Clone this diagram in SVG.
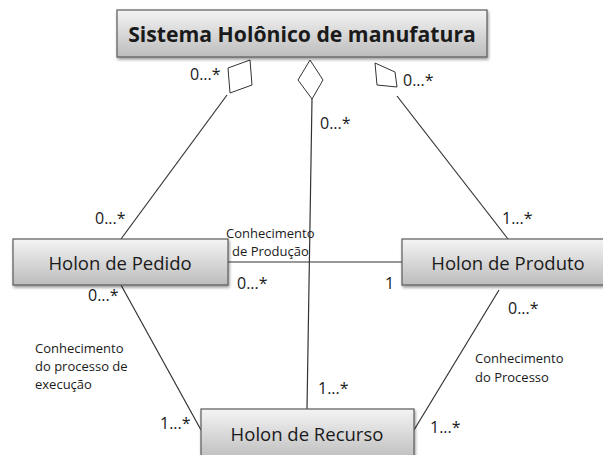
<svg xmlns="http://www.w3.org/2000/svg" width="603" height="455" viewBox="0 0 603 455">
<defs>
<linearGradient id="g" x1="0" y1="0" x2="0" y2="1">
<stop offset="0" stop-color="#f4f4f4"/>
<stop offset="1" stop-color="#bcbcbc"/>
</linearGradient>
<filter id="sh" x="-10%" y="-20%" width="120%" height="150%">
<feDropShadow dx="1" dy="2" stdDeviation="1.5" flood-color="#000" flood-opacity="0.4"/>
</filter>
</defs>
<style>
.box{fill:url(#g);stroke:#5a5a5a;stroke-width:1.2;filter:url(#sh)}
.t{font-family:"Open Sans","Liberation Sans",sans-serif;fill:#1a1a1a}
.big{font-size:18.5px}
.lab{font-size:16px}
.sm{font-size:13px}
.ln{stroke:#333;stroke-width:1.2;fill:none}
.dm{stroke:#333;stroke-width:1;fill:#fff}
</style>
<g id="connectors">
<line class="ln" x1="227" y1="95" x2="121" y2="239"/>
<line class="ln" x1="312" y1="99" x2="307" y2="409"/>
<line class="ln" x1="397" y1="96" x2="508" y2="239"/>
<line class="ln" x1="228" y1="262" x2="402" y2="262"/>
<line class="ln" x1="121" y1="285" x2="201" y2="430"/>
<line class="ln" x1="499" y1="290" x2="414" y2="430"/>
<polygon class="dm" points="228,68 250,60 252,85 230,93"/>
<polygon class="dm" points="310,60 323,80 312,99 298,80"/>
<polygon class="dm" points="375,63 395,72 397,87 377,85"/>
</g>
<g id="sistema">
<rect class="box" x="117" y="10" width="370" height="47"/>
<text class="t" x="302" y="42" text-anchor="middle" font-size="21.2" font-weight="bold">Sistema Holônico de manufatura</text>
</g>
<g id="pedido">
<rect class="box" x="13" y="239" width="215" height="46"/>
<text class="t big" x="120" y="270" text-anchor="middle">Holon de Pedido</text>
</g>
<g id="produto">
<rect class="box" x="402" y="239" width="210" height="46"/>
<text class="t big" x="508" y="270" text-anchor="middle">Holon de Produto</text>
</g>
<g id="recurso">
<rect class="box" x="201" y="409" width="213" height="52"/>
<text class="t big" x="307" y="441" text-anchor="middle">Holon de Recurso</text>
</g>
<g id="labels">
<text class="t lab" x="190" y="80">0...*</text>
<text class="t lab" x="403" y="86">0...*</text>
<text class="t lab" x="320" y="129">0...*</text>
<text class="t lab" x="95" y="224">0...*</text>
<text class="t sm" x="226" y="238">Conhecimento</text>
<text class="t sm" x="232" y="256">de Produção</text>
<text class="t lab" x="237" y="289">0...*</text>
<text class="t lab" x="385" y="289">1</text>
<text class="t lab" x="502" y="224">1...*</text>
<text class="t lab" x="88" y="301">0...*</text>
<text class="t sm" x="35" y="353">Conhecimento</text>
<text class="t sm" x="35" y="371">do processo de</text>
<text class="t sm" x="35" y="389">execução</text>
<text class="t lab" x="160" y="429">1...*</text>
<text class="t lab" x="508" y="314">0...*</text>
<text class="t sm" x="475" y="363">Conhecimento</text>
<text class="t sm" x="475" y="382">do Processo</text>
<text class="t lab" x="318" y="394">1...*</text>
<text class="t lab" x="430" y="433">1...*</text>
</g>
</svg>
